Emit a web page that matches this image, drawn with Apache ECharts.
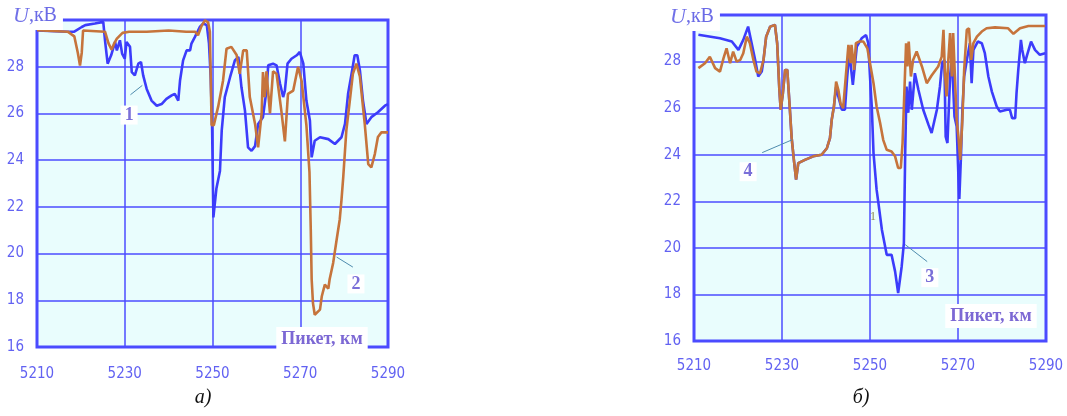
<!DOCTYPE html>
<html><head><meta charset="utf-8">
<script src="https://cdn.jsdelivr.net/npm/echarts@6/dist/echarts.min.js"></script>
<style>html,body{margin:0;padding:0;background:#fff}#c{width:1067px;height:416px}</style>
</head><body><div id="c"></div>
<script>
// ---------- data ----------
const xTicks = [5210, 5230, 5250, 5270, 5290];
const yTicks = [16, 18, 20, 22, 24, 26, 28, 30];
const axisTitleY = 'U';
const axisUnitY = ',кВ';
const axisTitleX = 'Пикет, км';
const captions = ['а)', 'б)'];

// chart a), curve 1 (blue)
const curve1 = [
 [5210,29.55],[5217,29.5],[5218.5,29.5],[5220.2,29.7],[5221,29.78],[5223.2,29.85],[5225.1,29.92],
 [5225.5,29.13],[5226.1,28.13],[5226.9,28.49],[5227.8,29.06],[5228.2,28.7],[5228.9,29.13],[5229.4,28.56],
 [5230,28.34],[5230.4,29.06],[5231.2,28.85],[5231.6,27.77],[5232.3,27.63],[5233.1,28.13],[5233.7,28.2],
 [5234.2,27.63],[5235,27.05],[5236.1,26.55],[5237.3,26.33],[5238.4,26.4],[5239.5,26.62],[5240.7,26.77],
 [5241.4,26.84],[5242.2,26.55],[5242.6,27.41],[5243.3,28.27],[5244.1,28.7],[5244.9,28.7],[5245.2,28.99],
 [5246,29.28],[5247.1,29.7],[5247.9,29.85],[5248.7,29.78],[5249.2,29.0],[5249.6,27.5],[5249.9,25.5],
 [5250.2,21.55],[5250.9,22.8],[5251.7,23.54],[5252.1,25.26],[5252.8,26.7],[5254,27.55],[5255.1,28.27],
 [5255.9,28.42],[5256.6,27.12],[5257.4,26.12],[5258.1,24.55],[5258.9,24.4],[5259.7,24.6],[5260.4,25.55],
 [5261.5,25.84],[5262.3,26.98],[5262.7,28.06],[5263.8,28.13],[5264.6,28.06],[5265.4,27.27],[5266.1,26.7],
 [5266.5,26.98],[5267.1,28.13],[5268,28.34],[5268.4,28.27],[5269.2,28.49],[5269.9,28.63],[5270.7,28.13],
 [5271.4,26.55],[5272.2,25.7],[5272.6,24.12],[5273.3,24.83],[5274.5,24.98],[5276.4,24.9],[5277.9,24.69],
 [5279.4,24.98],[5280.2,25.55],[5280.9,26.84],[5281.7,27.7],[5282.4,28.49],[5283,28.49],[5283.6,27.84],
 [5284.3,26.55],[5285.1,25.55],[5286.2,25.84],[5287.7,26.05],[5289.3,26.33],[5290,26.4]
];
// chart a), curve 2 (orange)
const curve2 = [
 [5210,29.56],[5217,29.5],[5218.5,29.3],[5219.3,28.6],[5219.8,28.05],[5220.2,28.6],[5220.5,29.55],
 [5225.5,29.5],[5226.3,29.0],[5227,28.73],[5227.6,29.0],[5228.2,29.2],[5229.5,29.45],[5231,29.5],
 [5235,29.5],[5240,29.55],[5244,29.5],[5246,29.5],[5246.7,29.35],[5247.5,29.75],[5248.3,29.99],
 [5249,29.9],[5249.4,29.5],[5249.8,25.5],[5250.3,25.5],[5251.3,26.3],[5252.4,27.4],[5253.2,28.77],
 [5254.3,28.85],[5255.5,28.5],[5256.2,27.7],[5257,28.7],[5257.8,28.7],[5258.5,26.7],[5259.7,25.55],
 [5260.4,24.55],[5261.2,26.0],[5261.5,27.77],[5261.9,26.7],[5262.3,27.8],[5263.1,26.0],[5263.8,27.8],
 [5264.6,27.7],[5265.7,26.1],[5266.5,24.8],[5267.2,26.84],[5268.4,26.98],[5269.5,28.0],[5270.3,27.4],
 [5271.4,25.5],[5272.1,23.5],[5272.4,21.0],[5272.6,18.9],[5272.9,17.88],[5273.3,17.38],[5274.5,17.6],
 [5274.9,18.16],[5275.6,18.67],[5276.4,18.5],[5276.7,18.9],[5277.5,19.6],[5278.3,20.6],[5279,21.46],
 [5279.4,22.3],[5279.8,23.27],[5280.5,25.26],[5281.3,26.55],[5282,27.7],[5282.8,28.13],[5283.6,27.57],
 [5284.7,25.55],[5285.5,23.83],[5286.2,23.69],[5287,24.26],[5287.7,24.99],[5288.5,25.19],[5290,25.19]
];
// chart б), curve 3 (blue)
const curve3 = [
 [5211,29.15],[5215.9,29.0],[5218.6,28.86],[5220.1,28.5],[5221.2,28.93],[5222.3,29.5],[5223.1,28.79],
 [5223.9,28.07],[5224.6,27.36],[5225.4,27.57],[5225.8,28.07],[5226.4,29.07],[5227.3,29.5],[5228.4,29.57],
 [5228.9,28.79],[5229.4,26.79],[5229.7,25.93],[5230.2,26.64],[5230.7,27.64],[5231.2,27.64],[5231.7,26.21],
 [5232.2,24.71],[5232.7,23.78],[5233.2,22.93],[5233.7,23.64],[5235.2,23.78],[5237.1,23.93],[5239,24.0],
 [5240.2,24.28],[5240.9,24.71],[5241.3,25.5],[5241.8,26.07],[5242.3,26.9],[5242.8,26.5],[5243.6,25.93],
 [5244.3,25.93],[5244.8,27.3],[5245.3,28.4],[5246.1,27.0],[5247,28.64],[5248.1,29.0],[5249.1,29.14],
 [5249.6,28.79],[5250,27.36],[5250.4,26.07],[5250.8,24.07],[5251.5,22.5],[5251.9,21.94],[5252.7,20.78],
 [5253.8,19.7],[5254.9,19.7],[5255.7,18.99],[5256.4,18.06],[5257.2,19.2],[5257.7,20.2],[5258,24.08],
 [5258.3,26.93],[5258.7,25.8],[5259.1,27.14],[5259.5,25.93],[5260.2,27.5],[5261,26.79],[5262.1,25.93],
 [5263.3,25.28],[5264,24.93],[5264.4,24.86],[5265.2,25.93],[5265.9,26.93],[5266.4,27.93],[5266.9,28.07],
 [5267.2,24.78],[5267.6,24.5],[5268.2,27.36],[5268.6,28.21],[5269.2,25.64],[5269.7,25.21],[5270.1,23.07],
 [5270.3,22.1],[5270.7,24.07],[5271,25.93],[5271.4,27.36],[5272,28.07],[5272.7,28.79],[5273.1,27.07],
 [5273.5,28.5],[5274.5,28.86],[5275.4,28.79],[5276.1,28.36],[5276.9,27.36],[5277.7,26.71],[5278.8,26.07],
 [5279.5,25.86],[5281.1,25.93],[5281.8,25.93],[5282.3,25.57],[5283,25.57],[5283.3,26.64],[5283.7,27.64],
 [5284.3,28.93],[5284.6,28.5],[5285.2,27.93],[5285.6,28.21],[5286.6,28.86],[5287.5,28.5],[5288.6,28.29],
 [5289.8,28.36]
];
// chart б), curve 4 (orange)
const curve4 = [
 [5211,27.72],[5212.5,27.93],[5213.6,28.21],[5214.8,27.72],[5215.9,27.57],[5216.7,28.14],[5217.4,28.57],
 [5218.2,27.93],[5218.9,28.43],[5219.7,28.0],[5220.5,28.07],[5221.2,28.36],[5222,29.07],[5222.7,28.79],
 [5223.5,28.07],[5224.2,27.57],[5225,27.5],[5225.8,28.07],[5226.4,29.07],[5227.3,29.5],[5228.4,29.57],
 [5228.9,28.79],[5229.4,26.79],[5229.7,25.93],[5230.2,26.64],[5230.7,27.64],[5231.2,27.64],[5231.7,26.21],
 [5232.2,24.71],[5232.7,23.78],[5233.2,22.93],[5233.7,23.64],[5235.2,23.78],[5237.1,23.93],[5239,24.0],
 [5240.2,24.28],[5240.9,24.71],[5241.3,25.5],[5241.8,26.07],[5242.3,27.14],[5242.8,26.79],[5243.3,26.21],
 [5243.9,26.0],[5244.5,27.36],[5245.1,28.72],[5245.6,27.93],[5245.8,28.72],[5246.4,27.64],[5246.8,28.79],
 [5247.6,28.86],[5248.5,28.86],[5249.4,28.57],[5250,27.93],[5250.8,27.07],[5251.5,26.07],[5252.3,25.36],
 [5253,24.64],[5253.8,24.21],[5254.9,24.14],[5255.7,23.93],[5256.4,23.43],[5257,23.43],[5257.4,24.5],
 [5257.8,26.64],[5258.2,28.79],[5258.5,27.79],[5258.8,28.86],[5259.3,27.36],[5259.8,28.07],[5260.6,28.43],
 [5261.8,27.79],[5262.9,27.07],[5264,27.4],[5265.5,27.79],[5266.3,28.21],[5266.7,29.36],[5267,27.64],
 [5267.4,26.5],[5267.8,28.07],[5268.2,29.22],[5268.6,27.36],[5268.9,29.22],[5269.3,27.36],[5269.7,25.5],
 [5270.1,24.78],[5270.5,23.78],[5271,25.5],[5271.4,27.64],[5272,29.36],[5272.5,29.43],[5273,28.07],
 [5273.5,28.79],[5274.3,29.07],[5275.4,29.29],[5276.5,29.43],[5278.4,29.47],[5281.4,29.43],[5282.6,29.19],
 [5284.1,29.43],[5286,29.53],[5289.8,29.53]
];

// annotation anchors (data coordinates): [grid, text, labelPos, leaderFrom, leaderTo]
const notes = [
 [0, '1', [5231, 25.93], [5231.3, 26.8], [5234, 27.2]],
 [0, '2', [5282.7, 18.7], [5278.3, 19.85], [5282, 19.42]],
 [1, '4', [5222.3, 23.27], [5225.5, 24.09], [5232.3, 24.64]],
 [1, '3', [5263.6, 18.72], [5258, 20.14], [5263, 19.41]]
];
const smallNote = [1, '1', [5250.7, 21.34]];

// ---------- styles ----------
const BLUE = '#3c3cfb', ORANGE = '#c6743c', GRIDC = '#4b4bff', TICKC = '#6262f2';
const SERIF = '"Liberation Serif","DejaVu Serif",serif';
const NARROW = '"Liberation Sans Narrow","DejaVu Sans Condensed","Liberation Sans",sans-serif';

const chart = echarts.init(document.getElementById('c'), null, {renderer: 'canvas'});
const grids = [
 {left: 37, top: 20, width: 351, height: 327},
 {left: 694, top: 15, width: 352, height: 326}
].map(g => Object.assign(g, {show: true, backgroundColor: '#e9fdfd', borderColor: GRIDC, borderWidth: 3, containLabel: false}));

function xAxis(i, margin) {
 return {gridIndex: i, type: 'value', min: xTicks[0], max: xTicks[xTicks.length - 1], interval: xTicks[1] - xTicks[0],
  axisLine: {show: false}, axisTick: {show: false},
  splitLine: {show: true, lineStyle: {color: GRIDC, width: 1.5}},
  axisLabel: {color: TICKC, fontFamily: NARROW, fontSize: 15, margin: margin, formatter: v => String(v)}};
}
function yAxis(i) {
 return {gridIndex: i, type: 'value', min: yTicks[0], max: yTicks[yTicks.length - 1], interval: yTicks[1] - yTicks[0],
  axisLine: {show: false}, axisTick: {show: false},
  splitLine: {show: true, lineStyle: {color: GRIDC, width: 1.5}},
  axisLabel: {color: TICKC, fontFamily: NARROW, fontSize: 15, margin: 13,
   formatter: v => (v === yTicks[yTicks.length - 1] ? '' : String(v))}};
}
function leader(gi) {
 return {silent: true, symbol: 'none', label: {show: false}, animation: false,
  lineStyle: {color: '#4f8cae', width: 1, type: 'solid'},
  data: notes.filter(n => n[0] === gi).map(n => [{coord: n[3]}, {coord: n[4]}])};
}
function line(data, color, gi, ml) {
 const s = {type: 'line', xAxisIndex: gi, yAxisIndex: gi, data: data, symbol: 'none', showSymbol: false,
  lineStyle: {color: color, width: 2.6}, itemStyle: {color: color}, animation: false, z: 3};
 if (ml) s.markLine = ml;
 return s;
}

chart.setOption({
 animation: false,
 grid: grids,
 xAxis: [xAxis(0, 20), xAxis(1, 18)],
 yAxis: [yAxis(0), yAxis(1)],
 series: [
  line(curve1, BLUE, 0, leader(0)),
  line(curve2, ORANGE, 0),
  line(curve3, BLUE, 1, leader(1)),
  line(curve4, ORANGE, 1)
 ]
});

// ---------- text overlays ----------
const gfx = [];
grids.forEach((g, i) => {
 gfx.push({type: 'text', z: 100, x: g.left - 26, y: i === 0 ? g.top - 4 : g.top + 2,
  style: {text: '{u|' + axisTitleY + '}{n|' + axisUnitY + '}', backgroundColor: '#fff', padding: [3, 6, 3, 2],
   verticalAlign: 'middle', align: 'left',
   rich: {u: {fontFamily: SERIF, fontStyle: 'italic', fontSize: 22, fill: '#7070e8'},
          n: {fontFamily: SERIF, fontSize: 20, fill: '#6a6ae6'}}}});
 gfx.push({type: 'text', z: 100,
  x: g.left + g.width - (i === 0 ? 66 : 55), y: g.top + g.height - (i === 0 ? 8 : 25),
  style: {text: axisTitleX, backgroundColor: '#fff', padding: [3, 5, 3, 5], align: 'center', verticalAlign: 'middle',
   fontFamily: SERIF, fontWeight: 'bold', fontSize: 18, fill: '#7c68d4'}});
 gfx.push({type: 'text', z: 100, x: i === 0 ? 203 : 861, y: 398,
  style: {text: captions[i], align: 'center', verticalAlign: 'middle', fontFamily: SERIF, fontStyle: 'italic',
   fontSize: 20, fill: '#111'}});
});
notes.forEach(n => {
 const p = chart.convertToPixel({gridIndex: n[0]}, n[2]);
 gfx.push({type: 'text', z: 100, x: p[0], y: p[1],
  style: {text: n[1], backgroundColor: '#fff', padding: [1, 4, 0, 4], align: 'center', verticalAlign: 'middle',
   fontFamily: SERIF, fontWeight: 'bold', fontSize: 18, fill: '#7a6fd8'}});
});
{
 const p = chart.convertToPixel({gridIndex: smallNote[0]}, smallNote[2]);
 gfx.push({type: 'text', z: 100, x: p[0], y: p[1],
  style: {text: smallNote[1], align: 'center', verticalAlign: 'middle', fontFamily: SERIF, fontSize: 12, fill: '#8a8a50'}});
}
chart.setOption({graphic: gfx});
</script></body></html>
